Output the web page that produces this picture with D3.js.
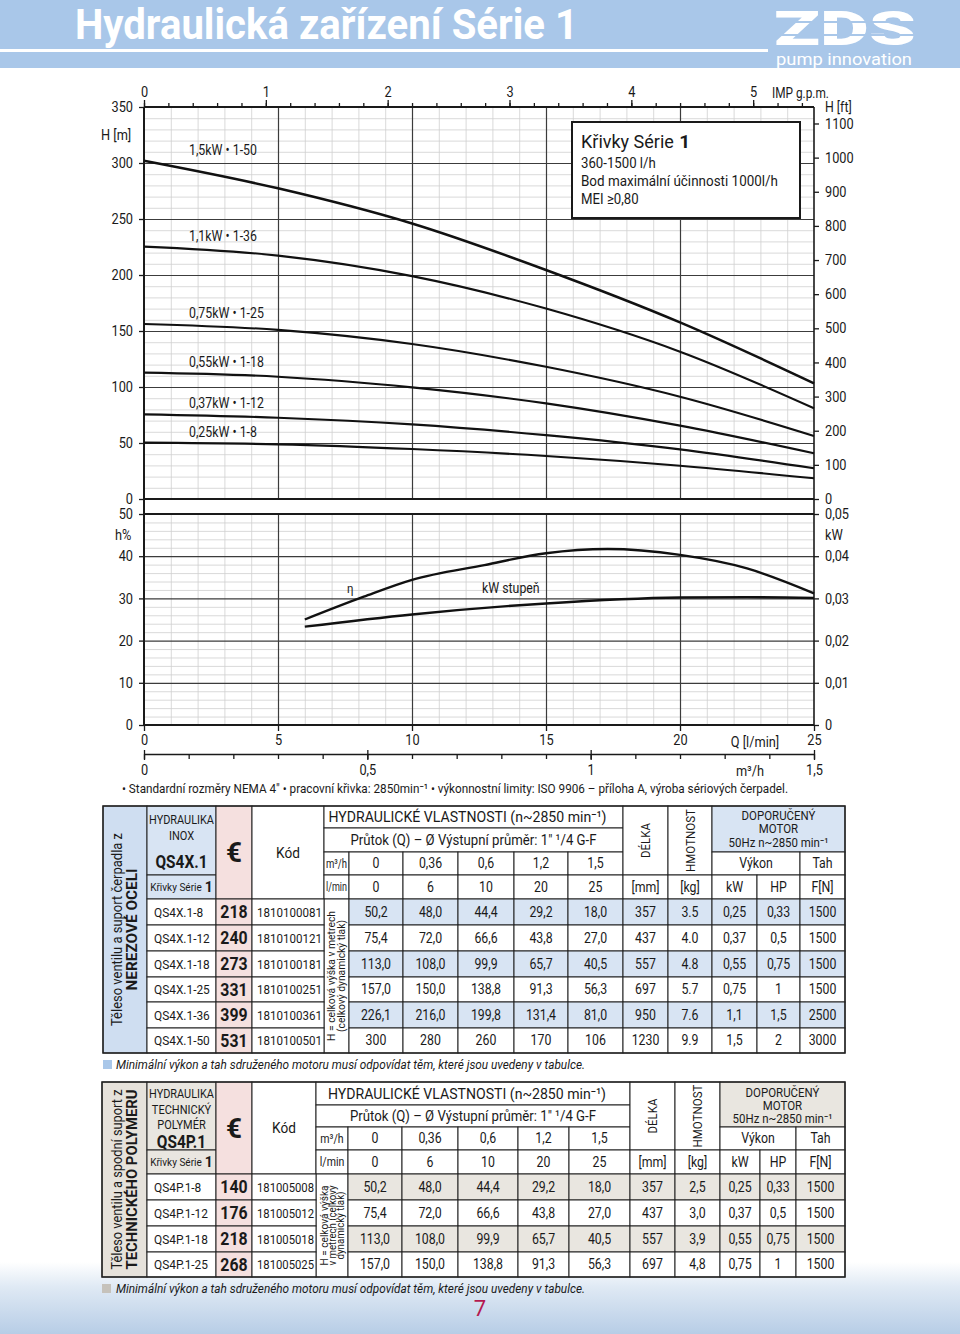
<!DOCTYPE html>
<html><head><meta charset="utf-8">
<script src="https://cdn.jsdelivr.net/npm/d3@7"></script>
<style>
html,body{margin:0;padding:0;background:#fff;}
svg{display:block;}
</style></head><body>
<svg id="c" width="960" height="1334"></svg>
<script>
// ---------------- DATA ----------------
const qTicks=[0,5,10,15,20,25];
const hTicksM=[0,50,100,150,200,250,300,350];
const hTicksFt=[0,100,200,300,400,500,600,700,800,900,1000,1100];
const impTicks=[0,1,2,3,4,5];
const effTicks=[0,10,20,30,40,50];
const kwTicks=[0,0.01,0.02,0.03,0.04,0.05];
const kwTickLabels=["0","0,01","0,02","0,03","0,04","0,05"];
const m3hTicks=[0,0.5,1,1.5];
const m3hTickLabels=["0","0,5","1","1,5"];

const curveQ=[0,5,10,15,20,25];
const curveLabels=["0,25kW • 1-8","0,37kW • 1-12","0,55kW • 1-18","0,75kW • 1-25","1,1kW • 1-36","1,5kW • 1-50"];
const h1_8 =[50.3,48.8,44.6,38.4,29.7,18.5];
const h1_12=[75.6,72.6,66.6,57.0,44.3,27.4];
const h1_18=[112.8,109.2,99.7,85.4,65.5,40.8];
const h1_25=[156.3,151.0,138.4,118.0,91.3,56.3];
const h1_36=[225.3,217.3,199.0,170.0,131.5,81.0];
const h1_50=[302.0,277.4,246.0,204.5,157.7,103.3];
const headCurves=[h1_8,h1_12,h1_18,h1_25,h1_36,h1_50];

const effQ=[6,8.2,10,12.7,15,17.3,20,22.5,25];
const effVals=[25.0,30.4,34.4,37.9,40.7,41.7,40.3,37.1,31.2];
const kwQ=[6,10,15,20,22.5,25];
const kwVals=[0.0233,0.0262,0.0288,0.0302,0.0303,0.0301];

const flowM3h=["0","0,36","0,6","1,2","1,5"];
const flowLmin=["0","6","10","20","25"];

const inoxModels=["QS4X.1-8","QS4X.1-12","QS4X.1-18","QS4X.1-25","QS4X.1-36","QS4X.1-50"];
const inoxPrices=["218","240","273","331","399","531"];
const inoxCodes=["1810100081","1810100121","1810100181","1810100251","1810100361","1810100501"];
const inoxH=[["50,2","48,0","44,4","29,2","18,0"],["75,4","72,0","66,6","43,8","27,0"],["113,0","108,0","99,9","65,7","40,5"],["157,0","150,0","138,8","91,3","56,3"],["226,1","216,0","199,8","131,4","81,0"],["300","280","260","170","106"]];
const inoxLength=["357","437","557","697","950","1230"];
const inoxWeight=["3.5","4.0","4.8","5.7","7.6","9.9"];
const inoxKW=["0,25","0,37","0,55","0,75","1,1","1,5"];
const inoxHP=["0,33","0,5","0,75","1","1,5","2"];
const inoxF=["1500","1500","1500","1500","2500","3000"];

const polyModels=["QS4P.1-8","QS4P.1-12","QS4P.1-18","QS4P.1-25"];
const polyPrices=["140","176","218","268"];
const polyCodes=["181005008","181005012","181005018","181005025"];
const polyH=[["50,2","48,0","44,4","29,2","18,0"],["75,4","72,0","66,6","43,8","27,0"],["113,0","108,0","99,9","65,7","40,5"],["157,0","150,0","138,8","91,3","56,3"]];
const polyLength=["357","437","557","697"];
const polyWeight=["2,5","3,0","3,9","4,8"];
const polyKW=["0,25","0,37","0,55","0,75"];
const polyHP=["0,33","0,5","0,75","1"];
const polyF=["1500","1500","1500","1500"];

// ---------------- SETUP ----------------
const FONT="Roboto, 'Noto Sans', 'DejaVu Sans', sans-serif";
const INK="#1a1a1a";
const COND=0.88;
const svg=d3.select("#c").attr("font-family",FONT);

function squeeze(t,cond,max){
  const w=t.node().getComputedTextLength();
  let target=w*cond;
  if(max && target>max) target=max;
  if(Math.abs(target-w)>0.3) t.attr("textLength",target).attr("lengthAdjust","spacingAndGlyphs");
  return target;
}
function T(g,x,y,s,o={}){
  const t=g.append("text").attr("x",x).attr("y",y)
    .attr("font-size",o.size||13).attr("text-anchor",o.anchor||"middle")
    .attr("fill",o.fill||INK);
  if(o.weight) t.attr("font-weight",o.weight);
  if(o.style) t.attr("font-style",o.style);
  t.attr("dy",o.dy!==undefined?o.dy:"0.35em");
  if(o.rot) t.attr("transform",`rotate(${o.rot},${x},${y})`);
  t.text(s);
  if(o.len){t.attr("textLength",o.len).attr("lengthAdjust","spacingAndGlyphs"); t.node().__w=o.len;}
  else t.node().__w=squeeze(t,o.cond!==undefined?o.cond:COND,o.max);
  return t;
}
// normal text followed by a bold part (separated by a space gap)
function T2(g,x,y,a,b,o,ob,centered){
  const t1=T(g,0,y,a,Object.assign({cond:1},o,{anchor:"start"}));
  const t2=T(g,0,y,b,Object.assign({cond:1},ob,{anchor:"start"}));
  const gap=(o.size||13)*0.3;
  const w1=t1.node().__w, w2=t2.node().__w;
  const sx=centered?x-(w1+gap+w2)/2:x;
  t1.attr("x",sx); t2.attr("x",sx+w1+gap);
}

// ---------------- HEADER ----------------
const hdr=svg.append("g");
hdr.append("rect").attr("x",0).attr("y",0).attr("width",960).attr("height",68).attr("fill","#a9c7e9");
hdr.append("rect").attr("x",0).attr("y",49).attr("width",768).attr("height",3).attr("fill","#fff");
T(hdr,75,39,"Hydraulická zařízení Série 1",{size:42,anchor:"start",weight:"bold",fill:"#fff",dy:0,len:503});
T(hdr,774,45,"ZDS",{size:48,anchor:"start",weight:"900",fill:"#fff",dy:0,len:142});
hdr.append("rect").attr("x",770).attr("y",21).attr("width",150).attr("height",2).attr("fill","#a9c7e9");
hdr.append("rect").attr("x",770).attr("y",34).attr("width",150).attr("height",2).attr("fill","#a9c7e9");
T(hdr,776,65,"pump innovation",{size:17,anchor:"start",fill:"#fff",dy:0,len:136});

// ---------------- SCALES ----------------
const x=d3.scaleLinear().domain([0,25]).range([144,814]);
const yH=d3.scaleLinear().domain([0,350]).range([499,107]);
const yFt=d3.scaleLinear().domain([0,350/0.3048]).range([499,107]);
const xImp=d3.scaleLinear().domain([0,25/4.54609]).range([144,814]);
const yE=d3.scaleLinear().domain([0,50]).range([725,514]);
const yKw=d3.scaleLinear().domain([0,0.05]).range([725,514]);
const xM3=d3.scaleLinear().domain([0,1.5]).range([144,814]);
const [X0,X1]=x.range();

// ---------------- GRID ----------------
function gridV(yBot,yTop,vals,col,w){
  const g=svg.append("g").attr("transform",`translate(0,${yBot})`)
    .call(d3.axisBottom(x).tickValues(vals).tickSize(-(yBot-yTop)).tickFormat(""));
  g.select(".domain").remove();
  g.selectAll("line").attr("stroke",col).attr("stroke-width",w);
}
function gridH(sc,vals,col,w){
  const g=svg.append("g").attr("transform",`translate(${X0},0)`)
    .call(d3.axisLeft(sc).tickValues(vals).tickSize(-(X1-X0)).tickFormat(""));
  g.select(".domain").remove();
  g.selectAll("line").attr("stroke",col).attr("stroke-width",w);
}
const minorQ=d3.range(1,25).filter(v=>v%5!==0);
gridV(yH(0),yH(350),minorQ,"#cfcfcf",0.8);
gridH(yH,d3.range(10,350,10).filter(v=>v%50!==0),"#cfcfcf",0.8);
gridV(yH(0),yH(350),[5,10,15,20],"#3c3c3c",1.2);
gridH(yH,[50,100,150,200,250,300],"#3c3c3c",1.2);

gridV(yE(0),yE(50),minorQ,"#cfcfcf",0.8);
gridH(yE,d3.range(2,50,2).filter(v=>v%10!==0),"#cfcfcf",0.8);
gridV(yE(0),yE(50),[5,10,15,20],"#3c3c3c",1.2);
gridH(yE,[10,20,30,40],"#3c3c3c",1.2);

// ---------------- FRAMES ----------------
const fr=svg.append("g").attr("stroke",INK);
[[X0,yH(350),X1,yH(350),2],[X0,yH(0),X1,yH(0),2],[X0,yE(50),X1,yE(50),2],[X0,yE(0),X1,yE(0),2],
 [X0,yH(350),X0,yE(0),2],[X1,yH(350),X1,yE(0),1.6]].forEach(l=>{
  fr.append("line").attr("x1",l[0]).attr("y1",l[1]).attr("x2",l[2]).attr("y2",l[3]).attr("stroke-width",l[4]);
});

// ---------------- AXES ----------------
function styleAxis(g,fs,keepDomain){
  if(!keepDomain) g.select(".domain").remove();
  else g.select(".domain").attr("stroke",INK).attr("stroke-width",1.6);
  g.selectAll("text").attr("font-size",fs).attr("fill",INK).attr("font-family",FONT)
    .each(function(){squeeze(d3.select(this),COND);});
  g.selectAll("line").attr("stroke",INK).attr("stroke-width",1.3);
  return g;
}
const fmt=d=>String(d);
styleAxis(svg.append("g").attr("transform",`translate(${X0},0)`).call(d3.axisLeft(yH).tickValues(hTicksM).tickSize(5).tickPadding(6).tickFormat(fmt)),14.5);
styleAxis(svg.append("g").attr("transform",`translate(${X1},0)`).call(d3.axisRight(yFt).tickValues(hTicksFt).tickSize(5).tickPadding(6).tickFormat(fmt)),14.5);
styleAxis(svg.append("g").attr("transform",`translate(0,${yH(350)})`).call(d3.axisTop(xImp).tickValues(impTicks).tickSize(7).tickPadding(3).tickFormat(fmt)),14.5);
styleAxis(svg.append("g").attr("transform",`translate(0,${yH(350)})`).call(d3.axisTop(xImp).tickValues(d3.range(0,5.5,0.2)).tickSize(4).tickFormat("")),14);
styleAxis(svg.append("g").attr("transform",`translate(${X0},0)`).call(d3.axisLeft(yE).tickValues(effTicks).tickSize(5).tickPadding(6).tickFormat(fmt)),14.5);
styleAxis(svg.append("g").attr("transform",`translate(${X1},0)`).call(d3.axisRight(yKw).tickValues(kwTicks).tickSize(5).tickPadding(6).tickFormat((d,i)=>kwTickLabels[i])),14.5);
styleAxis(svg.append("g").attr("transform",`translate(0,${yE(0)})`).call(d3.axisBottom(x).tickValues(qTicks).tickSize(6).tickPadding(4).tickFormat(fmt)),14.5);
const m3Y=754;
styleAxis(svg.append("g").attr("transform",`translate(0,${m3Y})`).call(d3.axisBottom(xM3).tickValues(d3.range(0,1.51,0.1)).tickSize(5).tickSizeOuter(0).tickFormat("")),14,true);
styleAxis(svg.append("g").attr("transform",`translate(0,${m3Y})`).call(d3.axisBottom(xM3).tickValues(m3hTicks).tickSize(6).tickPadding(5).tickFormat((d,i)=>m3hTickLabels[i])),14.5);
styleAxis(svg.append("g").attr("transform",`translate(0,${m3Y})`).call(d3.axisTop(xM3).tickValues(m3hTicks).tickSize(4).tickFormat("")),14);

// axis titles
const at=svg.append("g");
T(at,101,135,"H [m]",{size:14.5,anchor:"start"});
T(at,772,93,"IMP g.p.m.",{size:14.5,anchor:"start",len:57});
T(at,825,107,"H [ft]",{size:14,anchor:"start"});
T(at,115,535,"h%",{size:14.5,anchor:"start"});
T(at,825,535,"kW",{size:14.5,anchor:"start"});
T(at,755,742,"Q [l/min]",{size:14.5});
T(at,750,771,"m³/h",{size:14.5});
T(at,122,788,"• Standardní rozměry NEMA 4\" • pracovní křivka: 2850min⁻¹ • výkonnostní limity: ISO 9906 – příloha A, výroba sériových čerpadel.",{size:13.5,anchor:"start",len:666});

// ---------------- CURVES ----------------
const cv=svg.append("g");
const lineH=d3.line().x(d=>x(d[0])).y(d=>yH(d[1])).curve(d3.curveMonotoneX);
headCurves.forEach((arr,i)=>{
  const pts=curveQ.map((q,j)=>[q,arr[j]]);
  cv.append("path").attr("d",lineH(pts)).attr("fill","none").attr("stroke","#111").attr("stroke-width",i===5?2.5:2.1);
  T(cv,189,yH(arr[0])-11,curveLabels[i],{size:14,anchor:"start"});
});
const lineE=d3.line().x(d=>x(d[0])).y(d=>yE(d[1])).curve(d3.curveMonotoneX);
cv.append("path").attr("d",lineE(effQ.map((q,j)=>[q,effVals[j]]))).attr("fill","none").attr("stroke","#111").attr("stroke-width",2.4);
const lineK=d3.line().x(d=>x(d[0])).y(d=>yKw(d[1])).curve(d3.curveMonotoneX);
cv.append("path").attr("d",lineK(kwQ.map((q,j)=>[q,kwVals[j]]))).attr("fill","none").attr("stroke","#111").attr("stroke-width",2.4);
T(cv,347,588,"η",{size:13,anchor:"start"});
T(cv,482,588,"kW stupeň",{size:14,anchor:"start"});

// info box
const ib=svg.append("g");
ib.append("rect").attr("x",572).attr("y",122).attr("width",228).attr("height",96).attr("fill","#fff").attr("stroke",INK).attr("stroke-width",2);
T2(ib,581,148,"Křivky Série","1",{size:18,dy:0},{size:19,dy:0,weight:"bold"},false);
T(ib,581,168,"360-1500 l/h",{size:15,anchor:"start",dy:0});
T(ib,581,186,"Bod maximální účinnosti  1000l/h",{size:15,anchor:"start",dy:0,len:197});
T(ib,581,204,"MEI ≥0,80",{size:15,anchor:"start",dy:0});

// ---------------- BOTTOM BACKGROUND ----------------
const defs=svg.append("defs");
const gr=defs.append("linearGradient").attr("id","sky").attr("x1",0).attr("y1",0).attr("x2",0).attr("y2",1);
gr.append("stop").attr("offset","0").attr("stop-color","#ffffff");
gr.append("stop").attr("offset","0.35").attr("stop-color","#dfe9f4");
gr.append("stop").attr("offset","1").attr("stop-color","#b7cde6");
svg.insert("rect",":first-child").attr("x",0).attr("y",1262).attr("width",960).attr("height",72).attr("fill","url(#sky)");

// ---------------- TABLES ----------------
function drawTable(cfg){
  const g=svg.append("g");
  const xs=cfg.xs, ys=cfg.ys;
  const n=cfg.models.length;
  const cx=(a,b)=>(xs[a]+xs[b])/2;
  const cw=(a,b)=>xs[b]-xs[a]-4;
  function cell(c0,c1,y0,y1,fill){
    g.append("rect").attr("x",xs[c0]).attr("y",y0).attr("width",xs[c1]-xs[c0]).attr("height",y1-y0)
      .attr("fill",fill||"#fff").attr("stroke","#222").attr("stroke-width",1);
  }
  const yEnd=ys[ys.length-1];
  // column A
  cell(0,1,ys[0],yEnd,cfg.accentA);
  const ay=(ys[0]+yEnd)/2, ax=cx(0,1);
  g.append("text").attr("transform",`translate(${ax},${ay}) rotate(-90)`).attr("x",0).attr("y",-8).attr("dy","0.35em")
    .attr("text-anchor","middle").attr("font-size",15.5).attr("fill",INK).attr("textLength",cfg.aLen1).attr("lengthAdjust","spacingAndGlyphs").text(cfg.aText1);
  g.append("text").attr("transform",`translate(${ax},${ay}) rotate(-90)`).attr("x",0).attr("y",7).attr("dy","0.35em")
    .attr("text-anchor","middle").attr("font-size",15.5).attr("font-weight","bold").attr("fill",INK).attr("textLength",cfg.aLen2).attr("lengthAdjust","spacingAndGlyphs").text(cfg.aText2);
  // B header
  cell(1,2,ys[0],ys[3],cfg.accent);
  cfg.bLines.forEach(l=>T(g,cx(1,2),l[1],l[0],{size:12.5,max:cw(1,2)}));
  T(g,cx(1,2),cfg.bNameY,cfg.bName,{size:17.5,weight:"bold",max:cw(1,2)});
  cell(1,2,ys[3],ys[4],cfg.accent);
  T2(g,cx(1,2),(ys[3]+ys[4])/2,"Křivky Série","1",{size:10},{size:14,weight:"bold"},true);
  // price header
  cell(2,3,ys[0],ys[4],cfg.pink);
  T(g,cx(2,3),(ys[0]+ys[4])/2,"€",{size:28,weight:"bold",cond:1});
  // code header
  cell(3,4,ys[0],ys[4]);
  T(g,cx(3,4),(ys[0]+ys[4])/2,"Kód",{size:15.5});
  // hydraulic header
  cell(4,10,ys[0],ys[1]);
  T(g,cx(4,10)-6,(ys[0]+ys[1])/2,"HYDRAULICKÉ VLASTNOSTI  (n~2850 min⁻¹)",{size:15.5,len:278});
  cell(4,10,ys[1],ys[2]);
  T(g,cx(4,10),(ys[1]+ys[2])/2,"Průtok (Q) – Ø Výstupní průměr: 1\" ¹/4 G-F",{size:15,len:246});
  cell(4,5,ys[2],ys[3]);
  T(g,cx(4,5),(ys[2]+ys[3])/2,"m³/h",{size:12,max:cw(4,5)});
  cell(4,5,ys[3],ys[4]);
  T(g,cx(4,5),(ys[3]+ys[4])/2,"l/min",{size:12,max:cw(4,5)});
  flowM3h.forEach((v,i)=>{cell(5+i,6+i,ys[2],ys[3]); T(g,cx(5+i,6+i),(ys[2]+ys[3])/2,v,{size:14});});
  flowLmin.forEach((v,i)=>{cell(5+i,6+i,ys[3],ys[4]); T(g,cx(5+i,6+i),(ys[3]+ys[4])/2,v,{size:14});});
  // length / weight
  cell(10,11,ys[0],ys[3]);
  T(g,cx(10,11),(ys[0]+ys[3])/2,"DÉLKA",{size:13,rot:-90});
  cell(10,11,ys[3],ys[4]); T(g,cx(10,11),(ys[3]+ys[4])/2,"[mm]",{size:14});
  cell(11,12,ys[0],ys[3]);
  T(g,cx(11,12),(ys[0]+ys[3])/2,"HMOTNOST",{size:13,rot:-90,len:63});
  cell(11,12,ys[3],ys[4]); T(g,cx(11,12),(ys[3]+ys[4])/2,"[kg]",{size:14});
  // motor
  cell(12,15,ys[0],ys[2],cfg.accent);
  const my=cfg.motorY;
  T(g,cx(12,15),my[0],"DOPORUČENÝ",{size:13});
  T(g,cx(12,15),my[1],"MOTOR",{size:13});
  T(g,cx(12,15),my[2],"50Hz n~2850 min⁻¹",{size:13});
  cell(12,14,ys[2],ys[3]); T(g,cx(12,14),(ys[2]+ys[3])/2,"Výkon",{size:14});
  cell(14,15,ys[2],ys[3]); T(g,cx(14,15),(ys[2]+ys[3])/2,"Tah",{size:14});
  cell(12,13,ys[3],ys[4]); T(g,cx(12,13),(ys[3]+ys[4])/2,"kW",{size:14});
  cell(13,14,ys[3],ys[4]); T(g,cx(13,14),(ys[3]+ys[4])/2,"HP",{size:14});
  cell(14,15,ys[3],ys[4]); T(g,cx(14,15),(ys[3]+ys[4])/2,"F[N]",{size:14});
  // data rows
  cell(4,5,ys[4],yEnd);
  const ex=cx(4,5), ey=(ys[4]+yEnd)/2;
  cfg.eLines.forEach((s,k)=>{
    const off=(k-(cfg.eLines.length-1)/2)*cfg.eGap;
    g.append("text").attr("transform",`translate(${ex},${ey}) rotate(-90)`).attr("x",0).attr("y",off).attr("dy","0.35em")
      .attr("text-anchor","middle").attr("font-size",cfg.eSize).attr("fill",INK)
      .attr("textLength",cfg.eLen[k]).attr("lengthAdjust","spacingAndGlyphs").text(s);
  });
  for(let i=0;i<n;i++){
    const y0=ys[4+i], y1=ys[5+i], cy=(y0+y1)/2;
    const rf=i%2===0?cfg.accent:"#fff";
    cell(1,2,y0,y1); T(g,xs[1]+7,cy,cfg.models[i],{size:13.5,anchor:"start",max:cw(1,2)-5});
    cell(2,3,y0,y1,cfg.pink); T(g,cx(2,3),cy,cfg.prices[i],{size:18,weight:"bold",max:cw(2,3)});
    cell(3,4,y0,y1); T(g,xs[3]+5,cy,cfg.codes[i],{size:13.5,anchor:"start",max:cw(3,4)-3});
    cfg.H[i].forEach((v,k)=>{cell(5+k,6+k,y0,y1,rf); T(g,cx(5+k,6+k),cy,v,{size:14});});
    cell(10,11,y0,y1,rf); T(g,cx(10,11),cy,cfg.len[i],{size:14});
    cell(11,12,y0,y1,rf); T(g,cx(11,12),cy,cfg.wt[i],{size:14});
    cell(12,13,y0,y1,rf); T(g,cx(12,13),cy,cfg.kw[i],{size:14});
    cell(13,14,y0,y1,rf); T(g,cx(13,14),cy,cfg.hp[i],{size:14});
    cell(14,15,y0,y1,rf); T(g,cx(14,15),cy,cfg.f[i],{size:14});
  }
  // outer border
  g.append("rect").attr("x",xs[0]).attr("y",ys[0]).attr("width",xs[15]-xs[0]).attr("height",yEnd-ys[0])
    .attr("fill","none").attr("stroke","#222").attr("stroke-width",1.4);
  // note
  g.append("rect").attr("x",xs[0]).attr("y",cfg.noteY-4).attr("width",9).attr("height",9).attr("fill",cfg.noteSq);
  T(g,116,cfg.noteY,"Minimální výkon a tah sdruženého motoru musí odpovídat těm, které jsou uvedeny v tabulce.",{size:13.5,anchor:"start",style:"italic",len:469});
}

drawTable({
  xs:[103,147,216,252,324,349,403,458,514,568,623,668,712,757,800,845],
  ys:[806,828,852,875,899,925,951,977,1002,1028,1053],
  accent:"#d8e4f3", accentA:"#cfdef1", pink:"#f5e0df", noteSq:"#a9c7e9",
  aText1:"Těleso ventilu a suport čerpadla z", aText2:"NEREZOVÉ OCELI", aLen1:193, aLen2:122,
  bLines:[["HYDRAULIKA",820],["INOX",836]], bName:"QS4X.1", bNameY:862,
  motorY:[815,828,842],
  eLines:["H = celková výška v metrech","(celkový dynamický tlak)"], eGap:10, eSize:11, eLen:[130,112],
  models:inoxModels, prices:inoxPrices, codes:inoxCodes, H:inoxH, len:inoxLength, wt:inoxWeight,
  kw:inoxKW, hp:inoxHP, f:inoxF, noteY:1064
});
drawTable({
  xs:[102,147,216,252,316,348,402,458,518,569,630,675,720,760,796,845],
  ys:[1082,1105,1127,1150,1174,1200,1226,1252,1277],
  accent:"#e9e6e0", accentA:"#e6e2db", pink:"#f5e0df", noteSq:"#c6c2bb",
  aText1:"Těleso ventilu a spodní suport z", aText2:"TECHNICKÉHO POLYMERU", aLen1:180, aLen2:180,
  bLines:[["HYDRAULIKA",1094],["TECHNICKÝ",1110],["POLYMÉR",1125]], bName:"QS4P.1", bNameY:1142,
  motorY:[1092,1105,1118],
  eLines:["H = celková výška","v metrech (celkový","dynamický tlak)"], eGap:8, eSize:10, eLen:[80,80,68],
  models:polyModels, prices:polyPrices, codes:polyCodes, H:polyH, len:polyLength, wt:polyWeight,
  kw:polyKW, hp:polyHP, f:polyF, noteY:1288
});

// page number
T(svg,480,1308,"7",{size:22,fill:"#b5194f",cond:1});
</script>
</body></html>
